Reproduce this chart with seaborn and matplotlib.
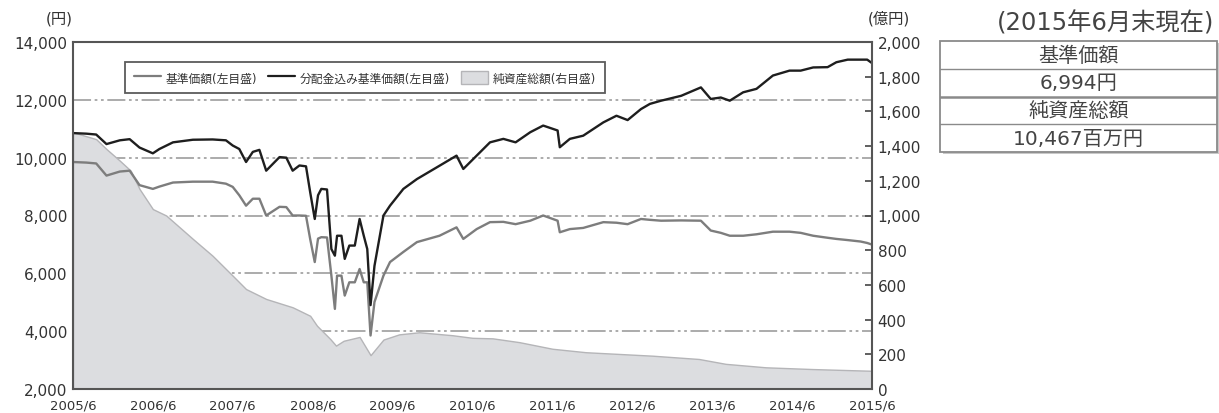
import pandas as pd
import matplotlib
matplotlib.use("Agg")
import matplotlib.pyplot as plt
import matplotlib.dates as mdates
from matplotlib.lines import Line2D
from matplotlib.patches import Patch, Rectangle
import seaborn as sns

# ================= DATOS =================
fechas_precio = [
    "2005-06-01", "2005-08-01", "2005-09-15", "2005-11-01", "2006-01-01", "2006-02-15",
    "2006-04-01", "2006-06-01", "2006-07-01", "2006-09-01", "2006-12-01", "2007-03-01",
    "2007-05-01", "2007-06-01", "2007-07-01", "2007-08-01", "2007-09-01", "2007-10-01",
    "2007-11-01", "2008-01-01", "2008-02-01", "2008-03-01", "2008-04-01", "2008-05-01",
    "2008-05-20", "2008-06-10", "2008-06-25", "2008-07-10", "2008-08-05", "2008-08-25",
    "2008-09-10", "2008-09-20", "2008-10-10", "2008-10-25", "2008-11-15", "2008-12-10",
    "2009-01-01", "2009-01-20", "2009-02-05", "2009-02-20", "2009-03-10", "2009-04-20",
    "2009-05-20", "2009-07-20", "2009-09-20", "2010-01-01", "2010-03-20", "2010-04-20",
    "2010-06-20", "2010-08-20", "2010-10-20", "2010-12-15", "2011-02-20", "2011-04-20",
    "2011-06-25", "2011-07-05", "2011-08-20", "2011-10-20", "2012-01-20", "2012-03-20",
    "2012-05-10", "2012-07-10", "2012-08-20", "2012-10-10", "2013-01-10", "2013-04-10",
    "2013-05-25", "2013-07-10", "2013-08-20", "2013-10-20", "2013-12-20", "2014-03-05",
    "2014-05-20", "2014-07-10", "2014-09-05", "2014-11-10", "2014-12-20", "2015-02-10",
    "2015-04-10", "2015-05-10", "2015-06-01",
]
precio_base = [  # 基準価額 (円)
    9850, 9830, 9800, 9380, 9520, 9550,
    9050, 8920, 9000, 9140, 9170, 9170,
    9100, 8990, 8700, 8340, 8580, 8580,
    8000, 8300, 8290, 8000, 8000, 7990,
    7190, 6390, 7200, 7250, 7240, 5920,
    4770, 5920, 5920, 5230, 5690, 5690,
    6150, 5690, 5690, 3850, 5010, 5920,
    6390, 6740, 7080, 7300, 7590, 7190,
    7530, 7770, 7780, 7700, 7820, 8000,
    7820, 7420, 7530, 7570, 7770, 7750,
    7700, 7880, 7850, 7820, 7830, 7820,
    7480, 7400, 7300, 7300, 7350, 7440,
    7440, 7400, 7300, 7230, 7190, 7150,
    7100, 7050, 6994,
]
precio_dist = [  # 分配金込み基準価額 (円)
    10850, 10830, 10800, 10470, 10600, 10640,
    10350, 10150, 10300, 10530, 10620, 10630,
    10600, 10420, 10300, 9850, 10200, 10270,
    9550, 10020, 10000, 9550, 9730, 9700,
    8810, 7880, 8700, 8920, 8900, 6840,
    6610, 7300, 7300, 6500, 6960, 6960,
    7880, 7300, 6840, 4900, 6260, 8000,
    8340, 8920, 9260, 9720, 10070, 9610,
    10070, 10530, 10650, 10530, 10880, 11110,
    10940, 10360, 10650, 10760, 11220, 11450,
    11300, 11680, 11860, 11970, 12140, 12430,
    12030, 12080, 11970, 12260, 12380, 12840,
    13010, 13010, 13120, 13130, 13300, 13390,
    13390, 13390, 13270,
]

fechas_activo = [
    "2005-06-01", "2005-09-15", "2005-11-01", "2006-01-01", "2006-02-20", "2006-04-01",
    "2006-06-01", "2006-08-01", "2006-12-01", "2007-03-01", "2007-06-01", "2007-08-01",
    "2007-11-01", "2008-03-01", "2008-05-20", "2008-06-20", "2008-08-20", "2008-09-15",
    "2008-10-20", "2009-01-01", "2009-02-20", "2009-04-20", "2009-07-01", "2009-10-01",
    "2010-03-01", "2010-06-01", "2010-09-01", "2011-01-01", "2011-06-01", "2011-11-01",
    "2012-04-01", "2012-09-01", "2013-04-01", "2013-08-01", "2014-02-01", "2014-09-01",
    "2015-06-01",
]
activo_neto = [  # 純資産総額 (億円)
    1480, 1440, 1383, 1316, 1258, 1153,
    1037, 1000, 865, 768, 653, 576,
    519, 471, 422, 365, 288, 250,
    278, 300, 195, 285, 315, 327,
    310, 295, 292, 270, 232, 212,
    202, 192, 173, 145, 125, 115,
    105,
]

etiquetas_leyenda = ["基準価額(左目盛)", "分配金込み基準価額(左目盛)", "純資産総額(右目盛)"]
filas_tabla = ["基準価額", "6,994円", "純資産総額", "10,467百万円"]
titulo_tabla = "(2015年6月末現在)"

df_precio = pd.DataFrame({
    "fecha": pd.to_datetime(fechas_precio),
    "base": precio_base,
    "dist": precio_dist,
})
df_activo = pd.DataFrame({"fecha": pd.to_datetime(fechas_activo), "activo": activo_neto})

# ================= ESTILO =================
sns.set_style("white")
plt.rcParams["font.family"] = ["DejaVu Sans", "Noto Sans CJK JP"]
COLOR_TXT = "#333333"

fig = plt.figure(figsize=(12.19, 4.14), dpi=100)
rect = [73 / 1219, 1 - 390 / 414, 799 / 1219, 347 / 414]

# capa de fondo: solo la grilla (queda debajo del área)
ax_bg = fig.add_axes(rect)
ax_bg.set_zorder(0)
ax_bg.set_ylim(2000, 14000)
ax_bg.set_yticks(range(4000, 14000, 2000))
ax_bg.set_xticks([])
ax_bg.tick_params(left=False, labelleft=False)
for s in ax_bg.spines.values():
    s.set_visible(False)
ax_bg.grid(True, axis="y", color="#a5a5a5", linewidth=1.3,
           linestyle=(0, (10, 2, 1.5, 2, 1.5, 2)))

# capa del área (eje derecho)
ax2 = fig.add_axes(rect)
ax2.set_zorder(1)
ax2.patch.set_visible(False)
ax2.fill_between(df_activo["fecha"], 0, df_activo["activo"],
                 facecolor="#dcdde0", edgecolor="#b5b5b8", linewidth=1.0)
ax2.yaxis.tick_right()
ax2.set_ylim(0, 2000)
ax2.set_yticks(range(0, 2001, 200))
ax2.set_yticklabels([f"{v:,}" for v in range(0, 2001, 200)])
ax2.tick_params(axis="y", direction="in", length=5, width=1.2, labelsize=11,
                colors="#444444", labelcolor=COLOR_TXT, pad=4)
ax2.tick_params(axis="x", bottom=False, labelbottom=False)
for s in ax2.spines.values():
    s.set_visible(False)

# capa de líneas (eje izquierdo)
ax = fig.add_axes(rect, sharex=ax2)
ax.set_zorder(2)
ax.patch.set_visible(False)
sns.lineplot(data=df_precio, x="fecha", y="base", ax=ax, color="#7d7d7d", linewidth=1.7)
sns.lineplot(data=df_precio, x="fecha", y="dist", ax=ax, color="#1e1e1e", linewidth=1.7)
ax.set_ylim(2000, 14000)
ax.set_yticks(range(2000, 14001, 2000))
ax.set_yticklabels([f"{v:,}" for v in range(2000, 14001, 2000)])
ax.set_xlim(pd.Timestamp("2005-06-01"), pd.Timestamp("2015-06-01"))
ax.xaxis.set_major_locator(mdates.MonthLocator(bymonth=6))
ax.xaxis.set_major_formatter(mdates.DateFormatter("%Y/%-m"))
ax.set_xlabel("")
ax.set_ylabel("")
ax.tick_params(axis="y", direction="in", length=5, width=1.2, labelsize=11,
               colors="#444444", labelcolor=COLOR_TXT, pad=4)
ax.tick_params(axis="x", direction="in", length=7, width=1.2, labelsize=9.5,
               colors="#444444", labelcolor=COLOR_TXT, pad=7)
for s in ax.spines.values():
    s.set_visible(True)
    s.set_color("#555555")
    s.set_linewidth(1.5)

# unidades
fig.text(73 / 1219, 1 - 11 / 414, "(円)", ha="right", va="top", fontsize=11, color=COLOR_TXT)
fig.text(868 / 1219, 1 - 11 / 414, "(億円)", ha="left", va="top", fontsize=11, color=COLOR_TXT)

# leyenda
handles = [
    Line2D([], [], color="#7d7d7d", linewidth=1.6),
    Line2D([], [], color="#1e1e1e", linewidth=1.6),
    Patch(facecolor="#dcdde0", edgecolor="#b5b5b8"),
]
leg = fig.legend(handles, etiquetas_leyenda, loc="upper left",
                 bbox_to_anchor=(125 / 1219, 1 - 63 / 414), ncol=3, fontsize=8.5,
                 frameon=True, fancybox=False, handlelength=2.3, handleheight=1.4,
                 columnspacing=0.9, handletextpad=0.4, borderpad=0.75, borderaxespad=0,
                 labelcolor=COLOR_TXT)
leg.get_frame().set_edgecolor("#333333")
leg.get_frame().set_linewidth(1.3)

# tabla a la derecha
fig.text(1106 / 1219, 1 - 23 / 414, titulo_tabla, ha="center", va="center",
         fontsize=17.5, color="#444444")
tab = fig.add_axes([940 / 1219, 1 - 153 / 414, 277 / 1219, 111 / 414])
tab.set_xlim(0, 1)
tab.set_ylim(0, 4)
tab.axis("off")
tab.add_patch(Rectangle((0.012, -0.08), 1, 4, facecolor="#c8c8c8", edgecolor="none",
                        clip_on=False, zorder=0))
tab.add_patch(Rectangle((0, 0), 1, 4, facecolor="white", edgecolor="#8a8a8a",
                        linewidth=1.3, clip_on=False, zorder=1))
for yy, lw in [(1, 1.0), (2, 1.8), (3, 1.0)]:
    tab.plot([0, 1], [yy, yy], color="#8a8a8a", linewidth=lw, zorder=2)
for i, txt in enumerate(filas_tabla):
    tab.text(0.5, 3.5 - i, txt, ha="center", va="center", fontsize=14.5,
             color="#444444", zorder=3)

plt.savefig("out.png", dpi=100)
plt.close()
